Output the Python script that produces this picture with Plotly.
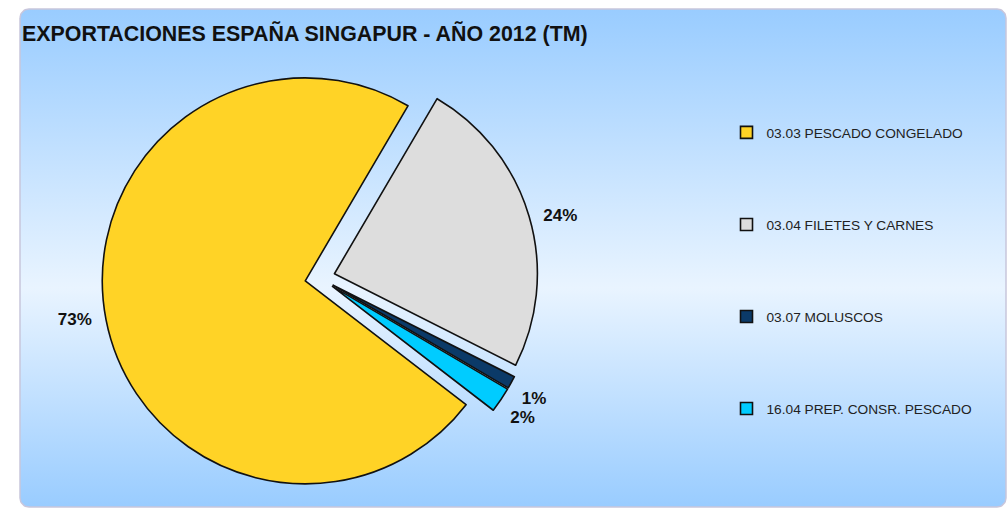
import numpy as np
import plotly.graph_objects as go

# ---- data ----
categories = ["03.03 PESCADO CONGELADO", "03.04 FILETES Y CARNES",
              "03.07 MOLUSCOS", "16.04 PREP. CONSR. PESCADO"]
shares = [73, 24, 1, 2]          # % of tonnage
colors = ["#FFD326", "#DDDDDD", "#0B3A68", "#00CCFF"]
title_text = "EXPORTACIONES ESPAÑA SINGAPUR - AÑO 2012 (TM)"

W, H = 1007, 509
FONT = "Liberation Sans, Arial, sans-serif"

# legend labels: blank lines above items 2..4 reproduce the wide spacing
legend_labels = [categories[0]] + ["&nbsp;<br>" * 4 + c for c in categories[1:]]
# label text (coloured in the span; the connector lines stay invisible)
NB = "&nbsp;"
PCT = "<span style='color:#111111;fill-opacity:1'>%{percent:.0%}</span>"
label_templates = [PCT + NB * 2,
                   NB * 2 + PCT,
                   NB + "<br>" + PCT,
                   NB + PCT]

# ---- rounded background panel ----
x0, x1, y0, y1, rad = 20, 1006, 9, 507, 9
t = np.linspace(0, np.pi / 2, 12)
px, py = [], []
px += list(x0 + rad - rad * np.cos(t)); py += list(y0 + rad - rad * np.sin(t))
px += list(x1 - rad + rad * np.sin(t)); py += list(y0 + rad - rad * np.cos(t))
px += list(x1 - rad + rad * np.cos(t)); py += list(y1 - rad + rad * np.sin(t))
px += list(x0 + rad - rad * np.sin(t)); py += list(y1 - rad + rad * np.cos(t))
px.append(px[0]); py.append(py[0])

fig = go.Figure()
fig.add_trace(go.Scatter(
    x=px, y=py, mode="lines", fill="toself",
    line=dict(color="#C8C6DC", width=1.5),
    fillgradient=dict(type="vertical", start=y0, stop=y1,
                      colorscale=[[0, "#99CCFF"], [0.56, "#E9F4FF"], [1, "#99CCFF"]]),
    hoverinfo="skip", showlegend=False,
))

cx, cy, half = 320, 278, 218
fig.add_trace(go.Pie(
    labels=legend_labels, values=shares, sort=False,
    direction="clockwise", rotation=127.6,
    pull=[0.074] * len(shares),
    marker=dict(colors=colors, line=dict(color="#111111", width=1.6)),
    texttemplate=label_templates, textposition="outside",
    textfont=dict(family=FONT, size=17, color="rgba(0,0,0,0)", weight="bold"),
    domain=dict(x=[(cx - half) / W, (cx + half) / W],
                y=[(H - cy - half) / H, (H - cy + half) / H]),
    hoverinfo="percent",
))

fig.update_layout(
    width=W, height=H, autosize=False,
    margin=dict(l=0, r=0, t=0, b=0, autoexpand=False),
    paper_bgcolor="white", plot_bgcolor="rgba(0,0,0,0)",
    xaxis=dict(visible=False, range=[0, W], domain=[0, 1], fixedrange=True),
    yaxis=dict(visible=False, range=[H, 0], domain=[0, 1], fixedrange=True),
    title=dict(text=title_text, x=22 / W, xanchor="left", xref="paper",
               y=1 - 34 / H, yanchor="middle", yref="paper",
               font=dict(family=FONT, size=21.4, color="#111111", weight="bold")),
    legend=dict(x=726.5 / W, xanchor="left", y=1 - 117 / H, yanchor="top",
                valign="bottom", bgcolor="rgba(0,0,0,0)", borderwidth=0,
                font=dict(family=FONT, size=13.7, color="#222222")),
    showlegend=True,
)

fig.write_html(
    "out.html",
    config={"displayModeBar": False},
    post_script=("document.body.style.margin='0';"
                 "document.body.style.overflow='hidden';"
                 "document.documentElement.style.overflow='hidden';"),
)
